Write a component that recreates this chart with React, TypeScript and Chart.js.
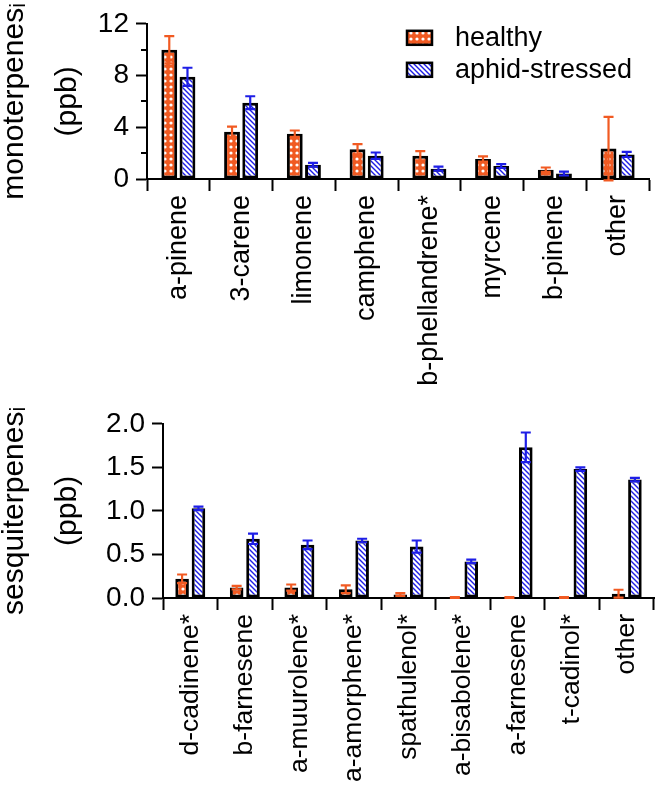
import React, { useEffect, useRef } from 'react';
import { Chart, registerables } from 'chart.js';

Chart.register(...registerables);

// ---------- data ----------
const seriesNames = ['healthy', 'aphid-stressed'];

const monoCategories = ['a-pinene', '3-carene', 'limonene', 'camphene', 'b-phellandrene*', 'myrcene', 'b-pinene', 'other'];
const monoHealthy = [10.0, 3.65, 3.5, 2.3, 1.8, 1.55, 0.72, 2.35];
const monoHealthyErr = [1.05, 0.4, 0.25, 0.4, 0.35, 0.2, 0.17, 2.45];
const monoAphid = [7.9, 5.9, 1.1, 1.8, 0.8, 1.0, 0.42, 1.9];
const monoAphidErr = [0.7, 0.5, 0.15, 0.25, 0.15, 0.15, 0.15, 0.2];
const monoMinorTicks = [2, 6, 10];

const sesqCategories = ['d-cadinene*', 'b-farnesene', 'a-muurolene*', 'a-amorphene*', 'spathulenol*', 'a-bisabolene*', 'a-farnesene', 't-cadinol*', 'other'];
const sesqHealthy = [0.22, 0.12, 0.12, 0.1, 0.04, 0.005, 0.005, 0.005, 0.05];
const sesqHealthyErr = [0.05, 0.02, 0.035, 0.045, 0.015, 0.005, 0.005, 0.005, 0.045];
const sesqAphid = [1.03, 0.68, 0.61, 0.66, 0.59, 0.42, 1.73, 1.48, 1.36];
const sesqAphidErr = [0.02, 0.06, 0.05, 0.02, 0.07, 0.02, 0.17, 0.02, 0.02];
const sesqMinorTicks: number[] = [];

const ORANGE = '#F15A22';
const BLUE = '#1E1EE6';
const FONT = '"Liberation Sans", Arial, Helvetica, sans-serif';

function makeDotPattern(): CanvasPattern | string {
  const c = document.createElement('canvas');
  c.width = 6; c.height = 6;
  const g = c.getContext('2d');
  if (!g) return ORANGE;
  g.fillStyle = ORANGE;
  g.fillRect(0, 0, 6, 6);
  g.fillStyle = '#ffffff';
  g.beginPath();
  g.arc(3, 3, 1.6, 0, Math.PI * 2);
  g.fill();
  return g.createPattern(c, 'repeat') || ORANGE;
}

function makeStripePattern(): CanvasPattern | string {
  const s = 5;
  const c = document.createElement('canvas');
  c.width = s; c.height = s;
  const g = c.getContext('2d');
  if (!g) return BLUE;
  g.fillStyle = '#ffffff';
  g.fillRect(0, 0, s, s);
  g.strokeStyle = BLUE;
  g.lineWidth = 1.4;
  g.beginPath();
  g.moveTo(-1, -1); g.lineTo(s + 1, s + 1);
  g.moveTo(-1, s - 1); g.lineTo(1, s + 1);
  g.moveTo(s - 1, -1); g.lineTo(s + 1, 1);
  g.stroke();
  return g.createPattern(c, 'repeat') || BLUE;
}

const errorBarPlugin = {
  id: 'errorBars',
  afterDatasetsDraw(chart: any) {
    const { ctx } = chart;
    const y = chart.scales.y;
    chart.data.datasets.forEach((ds: any, di: number) => {
      const meta = chart.getDatasetMeta(di);
      ctx.save();
      ctx.strokeStyle = ds.errorColor;
      ctx.lineWidth = 2.2;
      const cap = 5;
      meta.data.forEach((bar: any, i: number) => {
        const v = ds.data[i];
        const e = ds.errors[i];
        const x = bar.x;
        const yt = y.getPixelForValue(v + e);
        const yb = y.getPixelForValue(Math.max(v - e, -0.02 * y.max));
        ctx.beginPath();
        ctx.moveTo(x, yt); ctx.lineTo(x, yb);
        ctx.moveTo(x - cap, yt); ctx.lineTo(x + cap, yt);
        ctx.moveTo(x - cap, yb); ctx.lineTo(x + cap, yb);
        ctx.stroke();
      });
      ctx.restore();
    });
  },
};

const minorTickPlugin = {
  id: 'minorTicks',
  afterDraw(chart: any, _args: any, opts: any) {
    const vals: number[] = opts.values || [];
    if (!vals.length) return;
    const { ctx, chartArea } = chart;
    const y = chart.scales.y;
    ctx.save();
    ctx.strokeStyle = '#000';
    ctx.lineWidth = 2;
    vals.forEach((v) => {
      const py = Math.round(y.getPixelForValue(v));
      ctx.beginPath();
      ctx.moveTo(chartArea.left - 6, py);
      ctx.lineTo(chartArea.left, py);
      ctx.stroke();
    });
    ctx.restore();
  },
};

const patternLegendPlugin = {
  id: 'patternLegend',
  afterDraw(chart: any, _args: any, opts: any) {
    if (!opts.show) return;
    const { ctx, chartArea } = chart;
    ctx.save();
    const x0 = chartArea.right - opts.fromRight;
    chart.data.datasets.forEach((ds: any, i: number) => {
      const top = chartArea.top + opts.top + i * opts.rowGap;
      ctx.fillStyle = ds.backgroundColor;
      ctx.fillRect(x0, top, opts.boxW, opts.boxH);
      ctx.strokeStyle = '#000';
      ctx.lineWidth = 2.5;
      ctx.strokeRect(x0, top, opts.boxW, opts.boxH);
      ctx.fillStyle = '#000';
      ctx.font = `27px ${FONT}`;
      ctx.textBaseline = 'middle';
      ctx.textAlign = 'left';
      ctx.fillText(ds.label, x0 + opts.textGap, top + opts.boxH / 2 + 1);
    });
    ctx.restore();
  },
};

interface PanelProps {
  top: number;
  height: number;
  categories: string[];
  healthy: number[];
  healthyErr: number[];
  aphid: number[];
  aphidErr: number[];
  yMax: number;
  yStep: number;
  decimals: number;
  minor: number[];
  title: string[];
  areaLeft: number;
  areaRight: number;
  areaTop: number;
  areaBottom: number;
  legend: boolean;
  catPct: number;
  barPct: number;
  labelSize: number;
}

function Panel(p: PanelProps) {
  const ref = useRef<HTMLCanvasElement | null>(null);
  useEffect(() => {
    if (!ref.current) return;
    const W = 667;
    const chart = new Chart(ref.current, {
      type: 'bar',
      data: {
        labels: p.categories,
        datasets: [
          {
            label: seriesNames[0],
            data: p.healthy,
            errors: p.healthyErr,
            errorColor: ORANGE,
            backgroundColor: makeDotPattern(),
            borderColor: '#000',
            borderWidth: 3,
            borderSkipped: false,
            categoryPercentage: p.catPct,
            barPercentage: p.barPct,
          } as any,
          {
            label: seriesNames[1],
            data: p.aphid,
            errors: p.aphidErr,
            errorColor: BLUE,
            backgroundColor: makeStripePattern(),
            borderColor: '#000',
            borderWidth: 3,
            borderSkipped: false,
            categoryPercentage: p.catPct,
            barPercentage: p.barPct,
          } as any,
        ],
      },
      options: {
        responsive: false,
        animation: false,
        devicePixelRatio: 1,
        layout: {
          padding: { top: p.areaTop, right: W - p.areaRight, left: 0, bottom: 0 },
        },
        plugins: {
          legend: { display: false },
          tooltip: { enabled: false },
          minorTicks: { values: p.minor },
          patternLegend: { show: p.legend, fromRight: 242, top: 7, rowGap: 32, boxW: 25, boxH: 14, textGap: 48 },
        } as any,
        scales: {
          x: {
            type: 'category',
            offset: true,
            grid: {
              offset: true,
              drawOnChartArea: false,
              drawTicks: true,
              tickLength: 12,
              tickWidth: 2,
              tickColor: '#000',
            },
            border: { display: true, color: '#000', width: 2 },
            ticks: {
              autoSkip: false,
              maxRotation: 90,
              minRotation: 90,
              padding: 4,
              color: '#000',
              font: { family: FONT, size: p.labelSize },
            },
            afterFit: (s: any) => { s.height = p.height - p.areaBottom; },
          },
          y: {
            min: 0,
            max: p.yMax,
            grid: {
              drawOnChartArea: false,
              drawTicks: true,
              tickLength: 11,
              tickWidth: 2,
              tickColor: '#000',
            },
            border: { display: true, color: '#000', width: 2 },
            ticks: {
              stepSize: p.yStep,
              padding: 7,
              color: '#000',
              font: { family: FONT, size: 28 },
              callback: (v: any) => Number(v).toFixed(p.decimals),
            },
            title: {
              display: true,
              text: p.title,
              color: '#000',
              font: { family: FONT, size: 30, lineHeight: 0.87 },
              padding: { top: 2, bottom: 0 },
            },
            afterFit: (s: any) => { s.width = p.areaLeft; },
          },
        },
      },
      plugins: [errorBarPlugin, minorTickPlugin, patternLegendPlugin],
    } as any);
    return () => chart.destroy();
  }, []);
  return (
    <canvas
      ref={ref}
      width={667}
      height={p.height}
      style={{ position: 'absolute', left: 0, top: p.top, width: 667, height: p.height, display: 'block' }}
    />
  );
}

export default function App() {
  return (
    <div style={{ position: 'absolute', left: 0, top: 0, width: 667, height: 799, background: '#fff', overflow: 'hidden' }}>
      <Panel
        top={0}
        height={400}
        categories={monoCategories}
        healthy={monoHealthy}
        healthyErr={monoHealthyErr}
        aphid={monoAphid}
        aphidErr={monoAphidErr}
        yMax={12}
        yStep={4}
        decimals={0}
        minor={monoMinorTicks}
        title={['monoterpenes\u1d62', '', '(ppb)']}
        areaLeft={147}
        areaRight={649}
        areaTop={18}
        areaBottom={179}
        legend={true}
        catPct={0.58}
        barPct={0.87}
        labelSize={27}
      />
      <Panel
        top={400}
        height={399}
        categories={sesqCategories}
        healthy={sesqHealthy}
        healthyErr={sesqHealthyErr}
        aphid={sesqAphid}
        aphidErr={sesqAphidErr}
        yMax={2}
        yStep={0.5}
        decimals={1}
        minor={sesqMinorTicks}
        title={['sesquiterpenes\u1d62', '', '(ppb)']}
        areaLeft={163}
        areaRight={654}
        areaTop={22}
        areaBottom={198}
        legend={false}
        catPct={0.6}
        barPct={0.83}
        labelSize={26.5}
      />
    </div>
  );
}
